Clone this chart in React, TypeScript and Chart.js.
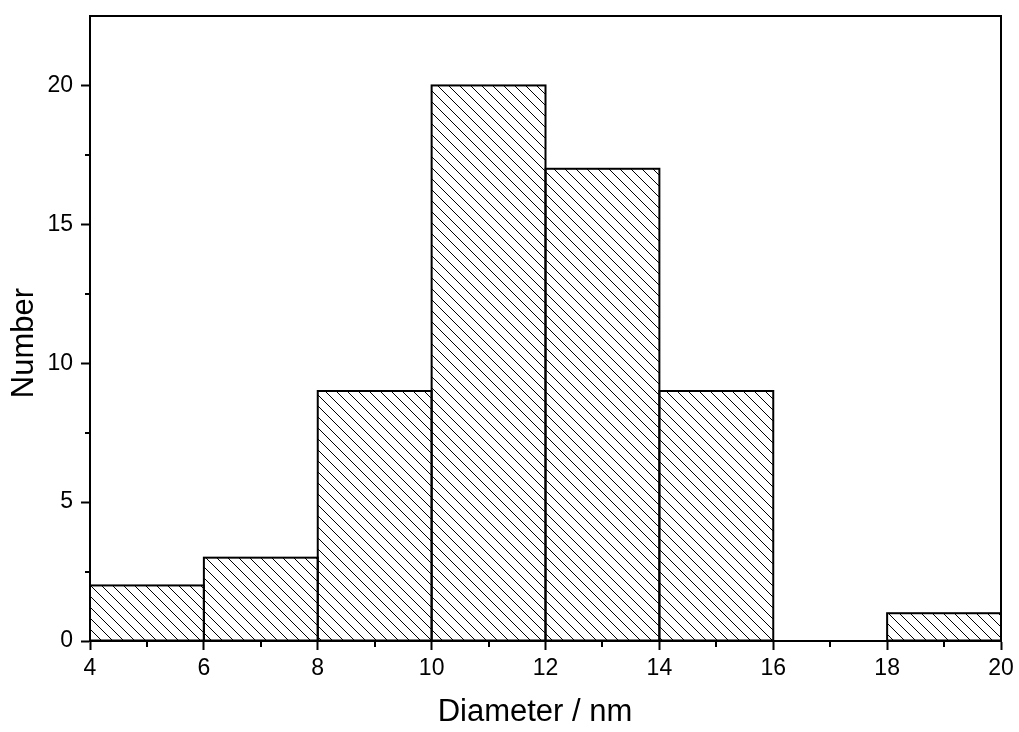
import React, { useEffect, useRef } from 'react';
import { Chart, registerables } from 'chart.js';

Chart.register(...registerables);

// ---- data ----
const BIN_CENTERS = [5, 7, 9, 11, 13, 15, 17, 19];
const COUNTS = [2, 3, 9, 20, 17, 9, 0, 1];
const X_TICKS = [4, 6, 8, 10, 12, 14, 16, 18, 20];
const X_MINOR = [5, 7, 9, 11, 13, 15, 17, 19];
const Y_TICKS = [0, 5, 10, 15, 20];
const Y_MINOR = [2.5, 7.5, 12.5, 17.5];
const X_TITLE = 'Diameter / nm';
const Y_TITLE = 'Number';

const FONT = '"Liberation Sans", Arial, sans-serif';

function makeHatch(): CanvasPattern | string {
  const s = 11;
  const c = document.createElement('canvas');
  c.width = s;
  c.height = s;
  const ctx = c.getContext('2d');
  if (!ctx) return '#fff';
  ctx.fillStyle = '#fff';
  ctx.fillRect(0, 0, s, s);
  ctx.strokeStyle = '#000';
  ctx.lineWidth = 1;
  ctx.beginPath();
  for (const k of [-1, 0, 1]) {
    ctx.moveTo(-1, -1 + k * s);
    ctx.lineTo(s + 1, s + 1 + k * s);
  }
  ctx.stroke();
  return ctx.createPattern(c, 'repeat') || '#fff';
}

const framePlugin = {
  id: 'frameAndMinor',
  afterDatasetsDraw(chart: any) {
    const ctx = chart.ctx;
    const meta = chart.getDatasetMeta(0);
    ctx.save();
    ctx.strokeStyle = '#000';
    ctx.lineWidth = 2;
    meta.data.forEach((el: any, i: number) => {
      if (!COUNTS[i]) return;
      const { x, y, base, width } = el.getProps(['x', 'y', 'base', 'width'], true);
      ctx.strokeRect(x - width / 2, y, width, base - y);
    });
    ctx.restore();
  },
  afterDraw(chart: any) {
    const { ctx, chartArea: a, scales } = chart;
    ctx.save();
    ctx.strokeStyle = '#000';
    ctx.lineWidth = 2;
    ctx.strokeRect(a.left, a.top, a.right - a.left, a.bottom - a.top);
    ctx.beginPath();
    X_MINOR.forEach((v) => {
      const px = Math.round(scales.x.getPixelForValue(v));
      ctx.moveTo(px, a.bottom);
      ctx.lineTo(px, a.bottom + 6);
    });
    Y_MINOR.forEach((v) => {
      const py = Math.round(scales.y.getPixelForValue(v));
      ctx.moveTo(a.left, py);
      ctx.lineTo(a.left - 5, py);
    });
    ctx.stroke();

    // axis titles
    ctx.fillStyle = '#000';
    ctx.font = `31px ${FONT}`;
    ctx.textAlign = 'center';
    ctx.textBaseline = 'alphabetic';
    ctx.fillText(X_TITLE, 535, 721);
    ctx.translate(33, 343);
    ctx.rotate(-Math.PI / 2);
    ctx.fillText(Y_TITLE, 0, 0);
    ctx.restore();
  },
};

export default function App() {
  const ref = useRef<HTMLCanvasElement>(null);

  useEffect(() => {
    if (!ref.current) return;
    Chart.defaults.font.family = FONT;
    Chart.defaults.color = '#000';
    const hatch = makeHatch();
    const chart = new Chart(ref.current, {
      type: 'bar',
      data: {
        datasets: [
          {
            data: BIN_CENTERS.map((x, i) => ({ x, y: COUNTS[i] })),
            backgroundColor: hatch as any,
            borderWidth: 0,
            barPercentage: 1,
            categoryPercentage: 1,
          },
        ],
      },
      plugins: [framePlugin],
      options: {
        responsive: false,
        animation: false,
        devicePixelRatio: 1,
        events: [],
        layout: { padding: { left: 0, top: 16, right: 18, bottom: 0 } },
        plugins: {
          legend: { display: false },
          tooltip: { enabled: false },
          title: { display: false },
        },
        scales: {
          x: {
            type: 'linear',
            min: 4,
            max: 20,
            offset: false,
            afterBuildTicks: (s: any) => {
              s.ticks = X_TICKS.map((v) => ({ value: v }));
            },
            afterFit: (s: any) => {
              s.height = 91;
              s.paddingLeft = 0;
              s.paddingRight = 0;
            },
            grid: {
              display: true,
              offset: false,
              drawOnChartArea: false,
              drawTicks: true,
              tickLength: 9,
              tickWidth: 2,
              tickColor: '#000',
            },
            border: { display: true, width: 2, color: '#000' },
            ticks: {
              autoSkip: false,
              maxRotation: 0,
              padding: 5,
              color: '#000',
              font: { size: 23, family: FONT },
            },
            title: { display: false },
          },
          y: {
            type: 'linear',
            min: 0,
            max: 22.5,
            afterBuildTicks: (s: any) => {
              s.ticks = Y_TICKS.map((v) => ({ value: v }));
            },
            afterFit: (s: any) => {
              s.width = 90;
              s.paddingTop = 0;
              s.paddingBottom = 0;
            },
            grid: {
              display: true,
              drawOnChartArea: false,
              drawTicks: true,
              tickLength: 9,
              tickWidth: 2,
              tickColor: '#000',
            },
            border: { display: true, width: 2, color: '#000' },
            ticks: {
              padding: 8,
              color: '#000',
              font: { size: 23, family: FONT },
            },
            title: { display: false },
          },
        },
      },
    });
    return () => chart.destroy();
  }, []);

  return (
    <div style={{ position: 'absolute', left: 0, top: 0, width: 1019, height: 732, background: '#fff' }}>
      <canvas ref={ref} width={1019} height={732} style={{ display: 'block' }} />
    </div>
  );
}
